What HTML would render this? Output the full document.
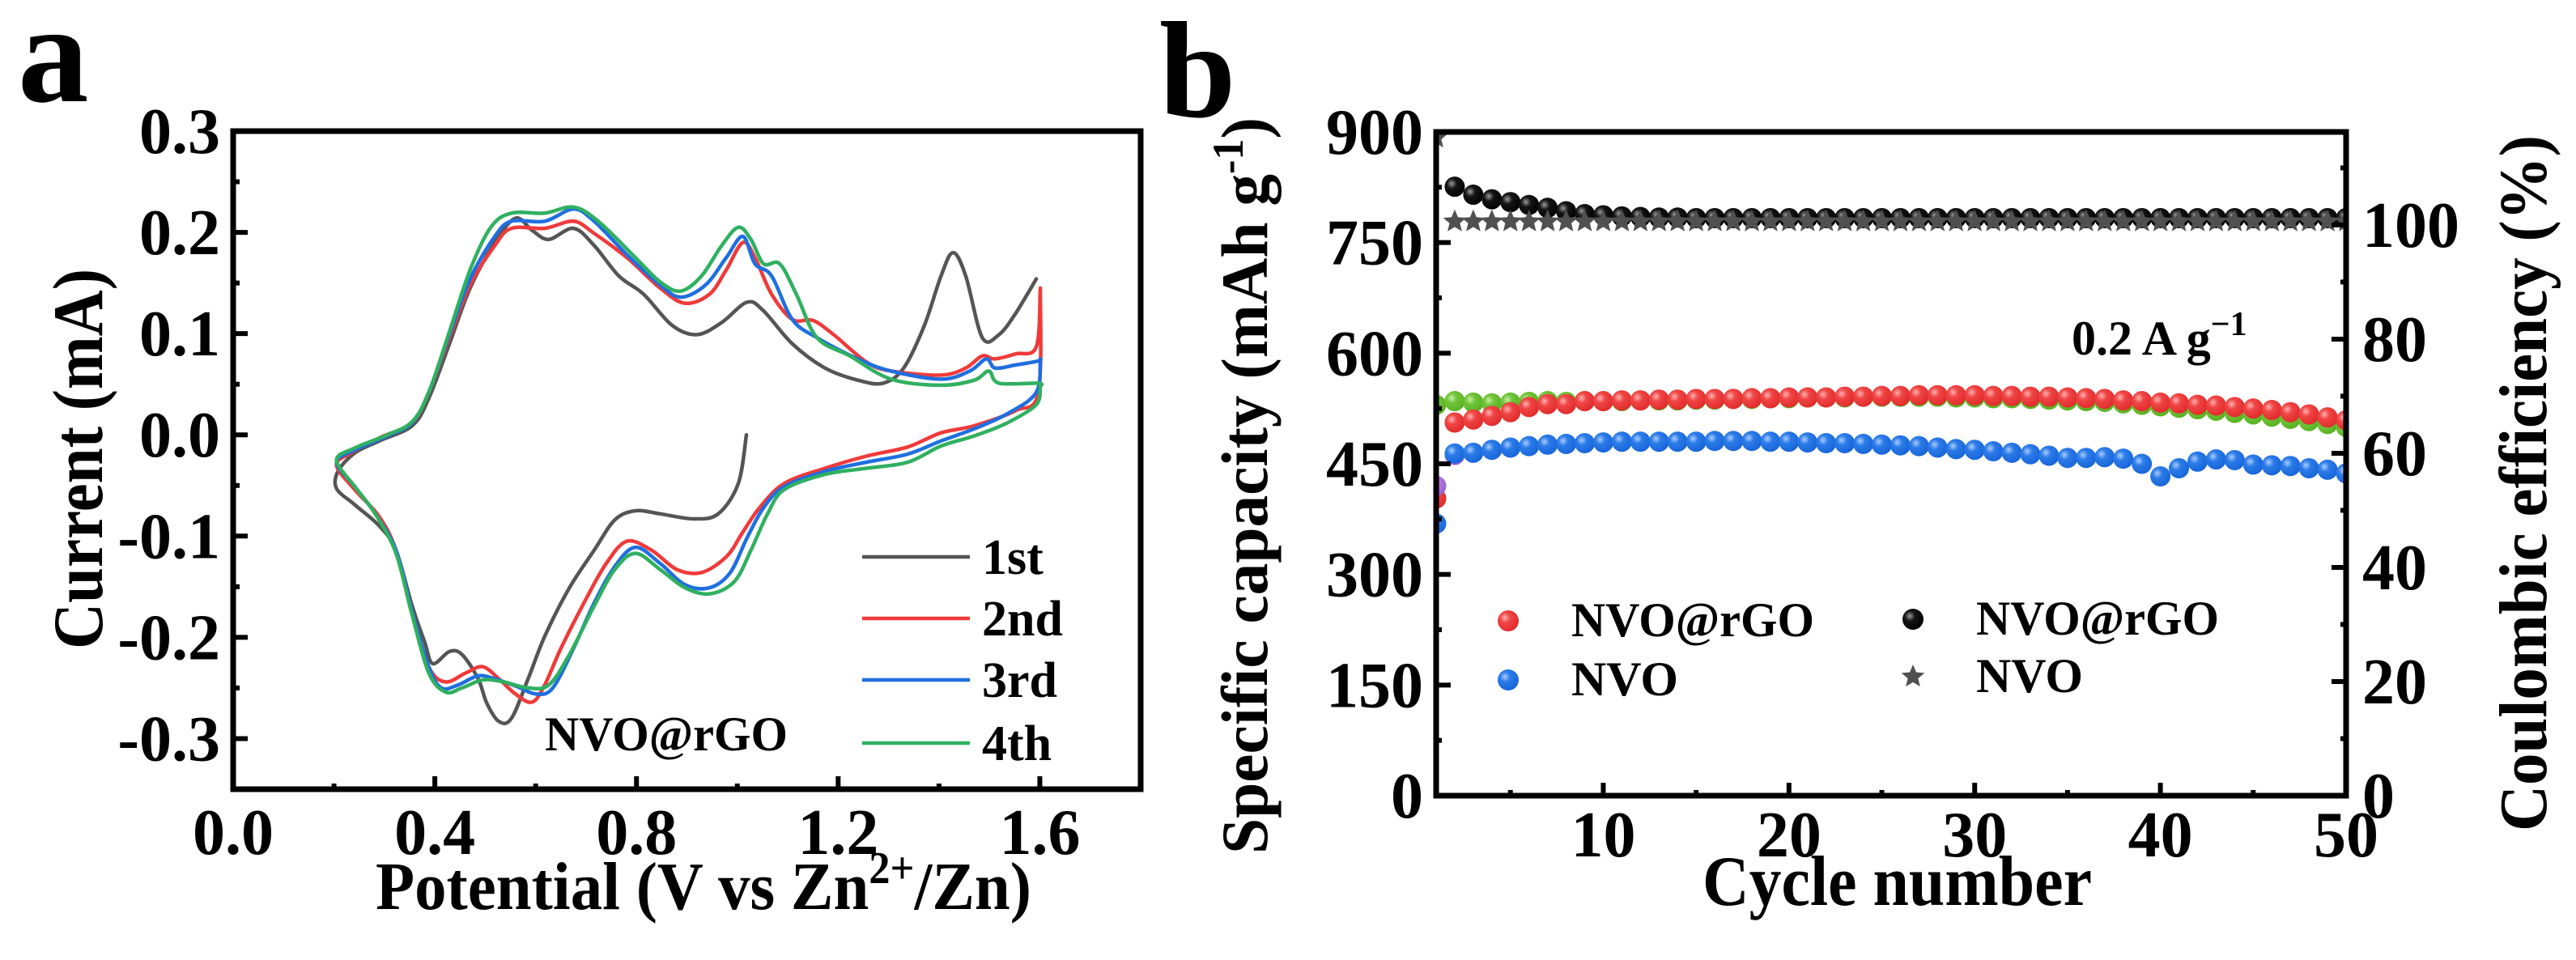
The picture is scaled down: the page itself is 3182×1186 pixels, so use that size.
<!DOCTYPE html>
<html><head><meta charset="utf-8"><style>
html,body{margin:0;padding:0;background:#fff;}
svg{display:block;}
text{font-family:"Liberation Serif",serif;font-weight:bold;fill:#000;}
</style></head><body>
<svg id="fig" width="3182" height="1186" viewBox="0 0 3182 1186" xmlns="http://www.w3.org/2000/svg">
<defs>
<radialGradient id="gRed" cx="0.35" cy="0.35" r="0.7"><stop offset="0" stop-color="#ffb0b0"/><stop offset="0.35" stop-color="#f04545"/><stop offset="1" stop-color="#e02a2a"/></radialGradient>
<radialGradient id="gBlue" cx="0.35" cy="0.35" r="0.7"><stop offset="0" stop-color="#a8ccff"/><stop offset="0.35" stop-color="#2b7be8"/><stop offset="1" stop-color="#1764d8"/></radialGradient>
<radialGradient id="gGreen" cx="0.35" cy="0.35" r="0.7"><stop offset="0" stop-color="#c8f0a0"/><stop offset="0.35" stop-color="#70c43a"/><stop offset="1" stop-color="#58b020"/></radialGradient>
<radialGradient id="gPurple" cx="0.35" cy="0.35" r="0.7"><stop offset="0" stop-color="#e6ccff"/><stop offset="0.35" stop-color="#b57ae0"/><stop offset="1" stop-color="#9c5fd0"/></radialGradient>
<radialGradient id="gBlack" cx="0.35" cy="0.35" r="0.7"><stop offset="0" stop-color="#9a9a9a"/><stop offset="0.35" stop-color="#151515"/><stop offset="1" stop-color="#000"/></radialGradient>
<clipPath id="clipA"><rect x="288" y="162" width="1121" height="813"/></clipPath>
<clipPath id="clipB"><rect x="1774" y="163" width="1124" height="820"/></clipPath>
</defs>
<g id="panelA"></g>
<g id="panelB"></g>
</svg>
<script>
// ---------- Panel a data (Potential V, Current mA) ----------
const cv1 = [[1.018,0],[1.002,-0.048],[0.962,-0.078],[0.913,-0.083],[0.847,-0.078],[0.798,-0.075],[0.757,-0.084],[0.716,-0.114],[0.667,-0.151],[0.618,-0.199],[0.585,-0.241],[0.552,-0.280],[0.527,-0.283],[0.503,-0.265],[0.486,-0.241],[0.454,-0.217],[0.429,-0.214],[0.396,-0.226],[0.380,-0.205],[0.355,-0.169],[0.323,-0.114],[0.290,-0.090],[0.241,-0.069],[0.205,-0.053],[0.208,-0.036],[0.241,-0.018],[0.290,-0.006],[0.355,0.009],[0.388,0.036],[0.429,0.090],[0.470,0.145],[0.519,0.190],[0.560,0.214],[0.593,0.202],[0.626,0.193],[0.675,0.204],[0.716,0.187],[0.765,0.157],[0.814,0.139],[0.871,0.108],[0.920,0.099],[0.969,0.111],[1.019,0.131],[1.051,0.123],[1.109,0.090],[1.174,0.066],[1.239,0.054],[1.289,0.051],[1.330,0.066],[1.371,0.108],[1.404,0.157],[1.428,0.180],[1.453,0.157],[1.486,0.096],[1.519,0.099],[1.552,0.120],[1.593,0.154]];
const cv2 = [[1.601,0.145],[1.597,0.042],[1.552,0.024],[1.470,0.009],[1.404,0.002],[1.338,-0.012],[1.256,-0.021],[1.174,-0.033],[1.093,-0.048],[1.044,-0.072],[1.011,-0.096],[0.979,-0.120],[0.929,-0.136],[0.880,-0.133],[0.830,-0.114],[0.781,-0.105],[0.740,-0.127],[0.699,-0.163],[0.650,-0.211],[0.618,-0.247],[0.593,-0.264],[0.560,-0.256],[0.527,-0.241],[0.495,-0.229],[0.462,-0.235],[0.421,-0.244],[0.388,-0.229],[0.355,-0.175],[0.323,-0.114],[0.290,-0.081],[0.241,-0.054],[0.205,-0.030],[0.233,-0.018],[0.290,-0.003],[0.355,0.012],[0.388,0.042],[0.429,0.096],[0.470,0.148],[0.519,0.187],[0.552,0.204],[0.618,0.204],[0.675,0.211],[0.716,0.199],[0.781,0.175],[0.847,0.145],[0.896,0.130],[0.945,0.139],[0.978,0.163],[1.011,0.190],[1.035,0.175],[1.068,0.139],[1.109,0.114],[1.150,0.113],[1.191,0.099],[1.256,0.072],[1.305,0.063],[1.404,0.059],[1.453,0.066],[1.486,0.078],[1.511,0.075],[1.552,0.080],[1.593,0.087],[1.601,0.145]];
const cv3 = [[1.601,0.075],[1.593,0.042],[1.536,0.021],[1.470,0.006],[1.404,-0.006],[1.338,-0.019],[1.256,-0.027],[1.174,-0.036],[1.093,-0.051],[1.052,-0.072],[1.019,-0.102],[0.986,-0.136],[0.945,-0.151],[0.896,-0.148],[0.847,-0.127],[0.798,-0.111],[0.757,-0.130],[0.716,-0.166],[0.675,-0.211],[0.634,-0.250],[0.601,-0.256],[0.560,-0.248],[0.519,-0.241],[0.486,-0.238],[0.446,-0.247],[0.413,-0.250],[0.388,-0.229],[0.355,-0.175],[0.323,-0.114],[0.282,-0.078],[0.241,-0.051],[0.205,-0.027],[0.241,-0.015],[0.306,-0.001],[0.355,0.012],[0.388,0.042],[0.429,0.099],[0.470,0.154],[0.519,0.196],[0.552,0.211],[0.618,0.211],[0.675,0.223],[0.716,0.211],[0.781,0.178],[0.847,0.148],[0.888,0.136],[0.937,0.148],[0.978,0.175],[1.011,0.196],[1.035,0.169],[1.068,0.157],[1.109,0.114],[1.158,0.096],[1.239,0.075],[1.305,0.063],[1.404,0.055],[1.461,0.063],[1.494,0.075],[1.511,0.066],[1.552,0.069],[1.597,0.073],[1.601,0.075]];
const cv4 = [[1.601,0.048],[1.593,0.030],[1.536,0.012],[1.470,-0.001],[1.404,-0.011],[1.338,-0.027],[1.256,-0.033],[1.174,-0.039],[1.093,-0.054],[1.060,-0.078],[1.027,-0.114],[0.994,-0.145],[0.945,-0.157],[0.896,-0.151],[0.847,-0.133],[0.798,-0.117],[0.757,-0.133],[0.716,-0.169],[0.667,-0.217],[0.626,-0.247],[0.585,-0.250],[0.536,-0.244],[0.495,-0.242],[0.454,-0.250],[0.421,-0.254],[0.388,-0.235],[0.355,-0.178],[0.323,-0.117],[0.282,-0.078],[0.241,-0.051],[0.205,-0.025],[0.241,-0.013],[0.306,0.000],[0.355,0.013],[0.388,0.042],[0.429,0.102],[0.470,0.163],[0.511,0.205],[0.552,0.219],[0.618,0.219],[0.675,0.225],[0.724,0.211],[0.798,0.175],[0.847,0.151],[0.888,0.142],[0.929,0.157],[0.969,0.187],[1.002,0.205],[1.027,0.193],[1.052,0.169],[1.084,0.169],[1.117,0.139],[1.158,0.096],[1.223,0.078],[1.305,0.055],[1.404,0.049],[1.470,0.054],[1.499,0.063],[1.519,0.051],[1.597,0.051],[1.601,0.048]];
const cvNames = ["1st","2nd","3rd","4th"];
const cvColors = ["#555555","#f03a3a","#1f6fe0","#30b060"];
const aXTicks = [0.0,0.4,0.8,1.2,1.6];
const aXTickLabels = ["0.0","0.4","0.8","1.2","1.6"];
const aYTicks = [0.3,0.2,0.1,0.0,-0.1,-0.2,-0.3];
const aYTickLabels = ["0.3","0.2","0.1","0.0","-0.1","-0.2","-0.3"];

// ---------- Panel b data (cycle 1..50) ----------
const capNVOrGO = [403,506,510,515,520,527,531,531,535,535,536,536,537,537,538,538,538,539,539,540,540,540,541,541,542,542,543,543,543,543,542,542,541,541,540,539,538,536,535,533,532,530,529,527,525,523,520,517,513,509];
const capNVOrGOb = [530,535,533,532,533,534,535,534,535,535,535,536,536,536,537,537,538,538,539,539,540,540,540,541,541,541,541,541,540,540,539,539,538,537,536,535,534,532,530,528,526,524,522,519,517,514,511,508,504,500];
const capNVO = [369,464,465,469,472,474,476,477,478,479,480,480,480,480,480,481,481,481,480,480,479,478,478,477,476,475,474,472,470,469,467,465,463,461,458,458,459,457,450,433,444,453,456,455,449,448,447,444,442,437];
const capNVOb = [420,462];
const ceNVOrGO = [120,106.7,105.3,104.5,104.0,103.5,103.0,102.4,101.9,101.7,101.5,101.4,101.3,101.3,101.2,101.2,101.2,101.2,101.2,101.2,101.2,101.2,101.2,101.2,101.2,101.2,101.2,101.2,101.2,101.2,101.2,101.2,101.2,101.2,101.2,101.2,101.2,101.2,101.2,101.2,101.2,101.2,101.2,101.2,101.2,101.2,101.2,101.2,101.2,101.2];
const ceNVO = [115.3,100.6,100.6,100.6,100.6,100.6,100.6,100.6,100.6,100.6,100.6,100.6,100.6,100.6,100.6,100.6,100.6,100.6,100.6,100.6,100.6,100.6,100.6,100.6,100.6,100.6,100.6,100.6,100.6,100.6,100.6,100.6,100.6,100.6,100.6,100.6,100.6,100.6,100.6,100.6,100.6,100.6,100.6,100.6,100.6,100.6,100.6,100.6,100.6,100.6];
const bXTicks = [10,20,30,40,50];
const bXTickLabels = ["10","20","30","40","50"];
const bYLTicks = [0,150,300,450,600,750,900];
const bYLTickLabels = ["0","150","300","450","600","750","900"];
const bYRTicks = [0,20,40,60,80,100];
const bYRTickLabels = ["0","20","40","60","80","100"];

const NS = "http://www.w3.org/2000/svg";
function mk(parent, tag, attrs, txt){
  const e = document.createElementNS(NS, tag);
  for (const k in attrs) e.setAttribute(k, attrs[k]);
  if (txt !== undefined) e.textContent = txt;
  parent.appendChild(e);
  return e;
}
const AX0=288, AX1=1409, AY0=162, AY1=975;
const xa = v => AX0 + v*(AX1-AX0)/1.8;
const ya = i => AY0 + (0.3-i)*(AY1-AY0)/0.65;
const BX0=1774, BX1=2898, BY0=163, BY1=983;
const xb = c => BX0 + (c-1)*(BX1-BX0)/49;
const yL = q => BY1 - q*(BY1-BY0)/900;
const yR = p => BY1 - p*(BY1-BY0)/116.3;

function smoothPath(P){
  let d = 'M'+P[0][0].toFixed(1)+','+P[0][1].toFixed(1);
  for (let i=0;i<P.length-1;i++){
    const p0=P[Math.max(0,i-1)], p1=P[i], p2=P[i+1], p3=P[Math.min(P.length-1,i+2)];
    const t=1/6;
    const c1=[p1[0]+(p2[0]-p0[0])*t, p1[1]+(p2[1]-p0[1])*t];
    const c2=[p2[0]-(p3[0]-p1[0])*t, p2[1]-(p3[1]-p1[1])*t];
    d += ' C'+c1[0].toFixed(1)+','+c1[1].toFixed(1)+' '+c2[0].toFixed(1)+','+c2[1].toFixed(1)+' '+p2[0].toFixed(1)+','+p2[1].toFixed(1);
  }
  return d;
}

// ===== Panel a =====
const A = document.getElementById('panelA');
const curvesG = mk(A,'g',{'clip-path':'url(#clipA)'});


[cv1,cv2,cv3,cv4].forEach((pts,k)=>{
  const P = pts.map(p=>[xa(p[0]),ya(p[1])]);
  const p = mk(curvesG,'path',{d:smoothPath(P),fill:'none',stroke:cvColors[k],'stroke-width':4.5,'stroke-linejoin':'round','stroke-linecap':'round'});
  
  
});
for (let v=0; v<=1.8001; v+=0.2){
  const major = Math.abs(v/0.4 - Math.round(v/0.4))<1e-6;
  const t = mk(A,'line',{x1:xa(v),x2:xa(v),y1:AY1,y2:AY1-(major?16:7),stroke:'#000','stroke-width':6});
  
  
}
for (let i=-0.35; i<=0.3001; i+=0.05){
  const major = Math.abs(i*10 - Math.round(i*10))<1e-6;
  const t = mk(A,'line',{x1:AX0,x2:AX0+(major?18:8),y1:ya(i),y2:ya(i),stroke:'#000','stroke-width':6});
  
  
}
const boxA = mk(A,'rect',{x:AX0,y:AY0,width:AX1-AX0,height:AY1-AY0,fill:'none',stroke:'#000','stroke-width':7});


aXTicks.forEach((v,k)=>{
  const t = mk(A,'text',{x:xa(v),y:1055,'font-size':80,'text-anchor':'middle'},aXTickLabels[k]);
  
  
});
aYTicks.forEach((v,k)=>{
  const t = mk(A,'text',{x:272,y:ya(v)+27,'font-size':80,'text-anchor':'end'},aYTickLabels[k]);
  
  
});
const xtA = mk(A,'text',{x:464,y:1123,'font-size':84,textLength:810,lengthAdjust:'spacingAndGlyphs'});


xtA.innerHTML = 'Potential (V vs Zn<tspan dy="-32" font-size="56">2+</tspan><tspan dy="32">/Zn)</tspan>';
const ytA = mk(A,'text',{x:0,y:0,'font-size':88,'text-anchor':'middle',transform:'translate(126,567) rotate(-90)',textLength:470,lengthAdjust:'spacingAndGlyphs'},'Current (mA)');


const lblA = mk(A,'text',{x:22,y:125,'font-size':175},'a');


const sA = mk(A,'text',{x:673,y:927,'font-size':60,textLength:300,lengthAdjust:'spacingAndGlyphs'},'NVO@rGO');


const legYs = [688,764,840,918];
cvNames.forEach((n,k)=>{
  const g = mk(A,'g',{});
  
  
  mk(g,'line',{x1:1065,x2:1198,y1:legYs[k],y2:legYs[k],stroke:cvColors[k],'stroke-width':4.5});
  mk(g,'text',{x:1213,y:legYs[k]+21,'font-size':62},n);
});

// ===== Panel b =====
const B = document.getElementById('panelB');
const marksG = mk(B,'g',{'clip-path':'url(#clipB)'});


function dots(arr, fill, scale, name){
  arr.forEach((v,j)=>{
    const c = mk(marksG,'circle',{cx:xb(j+1),cy:scale(v),r:12.5,fill:fill});
    
    
  });
}
function starPath(cx,cy,R){
  let d='';
  for(let k=0;k<10;k++){
    const r = k%2? R*0.45 : R;
    const a = -Math.PI/2 + k*Math.PI/5;
    d += (k?'L':'M')+(cx+r*Math.cos(a)).toFixed(1)+','+(cy+r*Math.sin(a)).toFixed(1);
  }
  return d+'Z';
}
dots(capNVOrGOb,'url(#gGreen)',yL,'capacity-point-nvo-rgo-charge');
dots(capNVOrGO,'url(#gRed)',yL,'capacity-point-nvo-rgo');
dots(capNVOb,'url(#gPurple)',yL,'capacity-point-nvo-charge');
dots(capNVO,'url(#gBlue)',yL,'capacity-point-nvo');
dots(ceNVOrGO,'url(#gBlack)',yR,'ce-point-nvo-rgo');
ceNVO.forEach((v,j)=>{
  const s = mk(marksG,'path',{d:starPath(xb(j+1),yR(v),15),fill:'#505050'});
  
  
});
for (let c=5;c<=50;c+=5){
  const major = c%10===0;
  const t = mk(B,'line',{x1:xb(c),x2:xb(c),y1:BY1,y2:BY1-(major?16:7),stroke:'#000','stroke-width':6});
  
  
}
for (let q=0;q<=900;q+=75){
  const major = q%150===0;
  const t = mk(B,'line',{x1:BX0,x2:BX0+(major?18:7),y1:yL(q),y2:yL(q),stroke:'#000','stroke-width':6});
  
  
}
for (let p=0;p<=110;p+=10){
  const major = p%20===0;
  const t = mk(B,'line',{x1:BX1,x2:BX1-(major?18:7),y1:yR(p),y2:yR(p),stroke:'#000','stroke-width':6});
  
  
}
const boxB = mk(B,'rect',{x:BX0,y:BY0,width:BX1-BX0,height:BY1-BY0,fill:'none',stroke:'#000','stroke-width':7});


bXTicks.forEach((v,k)=>{
  const t = mk(B,'text',{x:xb(v),y:1058,'font-size':80,'text-anchor':'middle'},bXTickLabels[k]);
  
  
});
bYLTicks.forEach((v,k)=>{
  const t = mk(B,'text',{x:1758,y:yL(v)+27,'font-size':80,'text-anchor':'end'},bYLTickLabels[k]);
  
  
});
bYRTicks.forEach((v,k)=>{
  const t = mk(B,'text',{x:2918,y:yR(v)+27,'font-size':80,'text-anchor':'start'},bYRTickLabels[k]);
  
  
});
const xtB = mk(B,'text',{x:2103,y:1118,'font-size':88,textLength:481,lengthAdjust:'spacingAndGlyphs'},'Cycle number');


const ytL = mk(B,'text',{x:0,y:0,'font-size':82,'text-anchor':'middle',transform:'translate(1565,600) rotate(-90)',textLength:910,lengthAdjust:'spacingAndGlyphs'});


ytL.innerHTML = 'Specific capacity (mAh g<tspan dy="-30" font-size="54">-1</tspan><tspan dy="30">)</tspan>';
const ytR = mk(B,'text',{x:0,y:0,'font-size':84,'text-anchor':'middle',transform:'translate(3145,597) rotate(-90)',textLength:860,lengthAdjust:'spacingAndGlyphs'},'Coulombic efficiency (%)');


const lblB = mk(B,'text',{x:1432,y:144,'font-size':170},'b');


const rate = mk(B,'text',{x:2559,y:438,'font-size':60});


rate.innerHTML = '0.2 A g<tspan dy="-24" font-size="42">−1</tspan>';
const legB = [
  {x:1863,y:767,t:'NVO@rGO',k:'dot',f:'url(#gRed)'},
  {x:1863,y:840,t:'NVO',k:'dot',f:'url(#gBlue)'},
  {x:2363,y:765,t:'NVO@rGO',k:'dot',f:'url(#gBlack)'},
  {x:2363,y:836,t:'NVO',k:'star',f:'#505050'}
];
legB.forEach(e=>{
  const g = mk(B,'g',{});
  
  
  if(e.k==='dot') mk(g,'circle',{cx:e.x,cy:e.y,r:13,fill:e.f});
  else mk(g,'path',{d:starPath(e.x,e.y,15),fill:e.f});
  mk(g,'text',{x:e.x+78,y:e.y+19,'font-size':60,textLength:e.t.length>3?300:132,lengthAdjust:'spacingAndGlyphs'},e.t);
});
</script>
</body></html>
